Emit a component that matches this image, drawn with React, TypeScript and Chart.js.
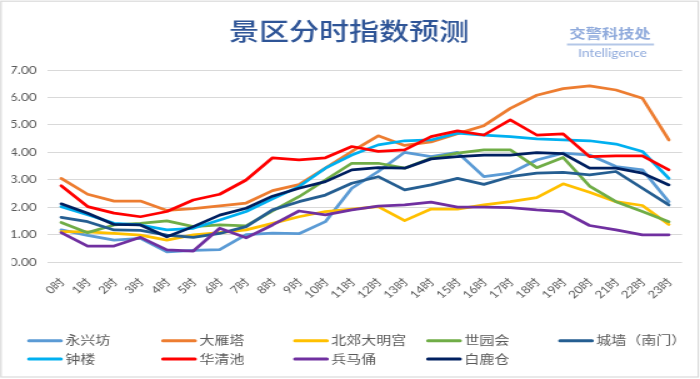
import React, { useEffect, useRef } from "react";
import { Chart, registerables } from "chart.js";

Chart.register(...registerables);

const hours = [
  "0时", "1时", "2时", "3时", "4时", "5时", "6时", "7时", "8时", "9时", "10时", "11时",
  "12时", "13时", "14时", "15时", "16时", "17时", "18时", "19时", "20时", "21时", "22时", "23时",
];

const yTickLabels = ["0.00", "1.00", "2.00", "3.00", "4.00", "5.00", "6.00", "7.00"];

const seriesNames = ["永兴坊", "大雁塔", "北郊大明宫", "世园会", "城墙（南门）", "钟楼", "华清池", "兵马俑", "白鹿仓"];

const yongxingfang = [1.17, 0.97, 0.8, 0.86, 0.37, 0.42, 0.45, 1.0, 1.05, 1.03, 1.47, 2.69, 3.3, 4.0, 3.84, 4.0, 3.11, 3.24, 3.72, 3.97, 3.9, 3.48, 3.36, 2.2];
const dayanta = [3.05, 2.47, 2.22, 2.22, 1.88, 1.95, 2.05, 2.15, 2.6, 2.82, 3.42, 4.03, 4.6, 4.25, 4.38, 4.68, 4.97, 5.6, 6.08, 6.32, 6.42, 6.27, 5.97, 4.45];
const beijiaoDaminggong = [1.11, 1.1, 1.04, 0.98, 0.8, 0.99, 1.07, 1.17, 1.41, 1.65, 1.84, 1.93, 2.02, 1.51, 1.93, 1.93, 2.08, 2.2, 2.35, 2.85, 2.54, 2.2, 2.06, 1.37];
const shiyuanhui = [1.44, 1.07, 1.35, 1.41, 1.5, 1.29, 1.35, 1.32, 1.86, 2.38, 2.99, 3.6, 3.6, 3.42, 3.78, 3.97, 4.09, 4.09, 3.44, 3.81, 2.77, 2.2, 1.84, 1.47];
const chengqiang = [1.63, 1.47, 1.17, 1.15, 0.98, 0.9, 1.04, 1.29, 1.9, 2.2, 2.44, 2.87, 3.11, 2.63, 2.81, 3.05, 2.83, 3.11, 3.24, 3.27, 3.18, 3.3, 2.69, 2.08];
const zhonglou = [2.02, 1.72, 1.41, 1.35, 1.17, 1.23, 1.53, 1.84, 2.3, 2.75, 3.42, 3.9, 4.27, 4.42, 4.45, 4.7, 4.63, 4.57, 4.49, 4.45, 4.42, 4.3, 4.03, 3.05];
const huaqingchi = [2.78, 2.02, 1.78, 1.65, 1.84, 2.26, 2.47, 2.99, 3.8, 3.72, 3.8, 4.21, 4.03, 4.09, 4.57, 4.78, 4.63, 5.18, 4.63, 4.67, 3.84, 3.87, 3.87, 3.36];
const bingmayong = [1.07, 0.58, 0.58, 0.9, 0.44, 0.4, 1.23, 0.88, 1.35, 1.86, 1.72, 1.9, 2.04, 2.08, 2.18, 2.0, 2.0, 1.98, 1.9, 1.84, 1.33, 1.17, 0.99, 0.99];
const bailucang = [2.12, 1.78, 1.37, 1.35, 0.92, 1.29, 1.71, 1.96, 2.4, 2.69, 2.93, 3.36, 3.44, 3.42, 3.76, 3.84, 3.9, 3.9, 3.99, 3.95, 3.42, 3.42, 3.24, 2.81];

const seriesValues = [yongxingfang, dayanta, beijiaoDaminggong, shiyuanhui, chengqiang, zhonglou, huaqingchi, bingmayong, bailucang];
const seriesColors = ["#5b9bd5", "#ed7d31", "#ffc000", "#70ad47", "#255e91", "#00b0f0", "#ff0000", "#7030a0", "#002060"];

const titleText = "景区分时指数预测";
const logoText = "交警科技处";
const logoSubText = "Intelligence";

const CJK = '"Noto Sans CJK SC", sans-serif';
const NUM = 'Lato, "Noto Sans CJK SC", sans-serif';

const decorPlugin = {
  id: "decor",
  beforeDraw(chart: any) {
    const ctx = chart.ctx;
    ctx.save();
    ctx.fillStyle = "#ffffff";
    ctx.fillRect(0, 0, chart.width, chart.height);
    ctx.strokeStyle = "#dadada";
    ctx.lineWidth = 1.2;
    ctx.strokeRect(0.8, 1.2, chart.width - 2.2, chart.height - 3.2);
    ctx.restore();
  },
  afterDraw(chart: any) {
    const ctx = chart.ctx;
    ctx.save();
    // title
    ctx.fillStyle = "#2f5597";
    ctx.font = `500 24px ${CJK}`;
    ctx.textAlign = "center";
    ctx.textBaseline = "middle";
    ctx.fillText(titleText, 279.2, 31);
    // logo
    ctx.fillStyle = "#8faadc";
    ctx.font = `600 13px ${CJK}`;
    ctx.fillText(logoText, 488, 33);
    ctx.strokeStyle = "#b4c7e7";
    ctx.lineWidth = 2;
    ctx.beginPath();
    ctx.moveTo(453.6, 44.5);
    ctx.lineTo(523.2, 44.5);
    ctx.stroke();
    ctx.font = `11px ${NUM}`;
    ctx.fillText(logoSubText, 490, 53.5);
    // legend
    const colX = [23.2, 130.4, 236, 342.4, 448];
    const rowY = [340.7, 359];
    ctx.textAlign = "left";
    ctx.font = `12px ${CJK}`;
    seriesNames.forEach((name, i) => {
      const row = i < 5 ? 0 : 1;
      const col = i < 5 ? i : i - 5;
      const x = colX[col];
      const y = rowY[row];
      ctx.strokeStyle = seriesColors[i];
      ctx.lineWidth = 3;
      ctx.lineCap = "round";
      ctx.beginPath();
      ctx.moveTo(x, y);
      ctx.lineTo(x + 25.6, y);
      ctx.stroke();
      ctx.fillStyle = "#595959";
      ctx.fillText(name, x + 29, y);
    });
    ctx.restore();
  },
};

export default function App() {
  const ref = useRef<HTMLCanvasElement | null>(null);

  useEffect(() => {
    document.body.style.margin = "0";
    const canvas = ref.current;
    if (!canvas) return;
    const chart = new Chart(canvas, {
      type: "line",
      data: {
        labels: hours,
        datasets: seriesNames.map((name, i) => ({
          label: name,
          data: seriesValues[i],
          borderColor: seriesColors[i],
          backgroundColor: seriesColors[i],
          borderWidth: 2.75,
          pointRadius: 0,
          tension: 0,
          fill: false,
          borderJoinStyle: "round" as const,
          borderCapStyle: "round" as const,
          order: seriesNames.length - 1 - i,
        })),
      },
      options: {
        animation: false,
        responsive: false,
        devicePixelRatio: 1,
        layout: { padding: { top: 70, left: 9.4, right: 14.4, bottom: 77 } },
        plugins: {
          legend: { display: false },
          title: { display: false },
          tooltip: { enabled: false },
        },
        scales: {
          x: {
            type: "category",
            offset: true,
            grid: { display: false, drawTicks: false },
            border: { display: false },
            ticks: {
              minRotation: 45,
              maxRotation: 45,
              autoSkip: false,
              padding: 14,
              labelOffset: 1,
              color: "#595959",
              font: { size: 10.5, family: NUM },
            },
            afterFit: (s: any) => {
              s.height = 40;
            },
          },
          y: {
            min: 0,
            max: 7,
            ticks: {
              stepSize: 1,
              padding: 9,
              color: "#595959",
              font: { size: 11, family: NUM },
              callback: (_v: any, i: number) => yTickLabels[i],
            },
            grid: { color: "#d9d9d9", drawTicks: false, lineWidth: 1 },
            border: { display: false },
            afterFit: (s: any) => {
              s.width = 29;
            },
          },
        },
      },
      plugins: [decorPlugin],
    });
    return () => chart.destroy();
  }, []);

  return (
    <canvas
      ref={ref}
      width={560}
      height={379}
      style={{ display: "block", width: "700px", height: "379px" }}
    />
  );
}
